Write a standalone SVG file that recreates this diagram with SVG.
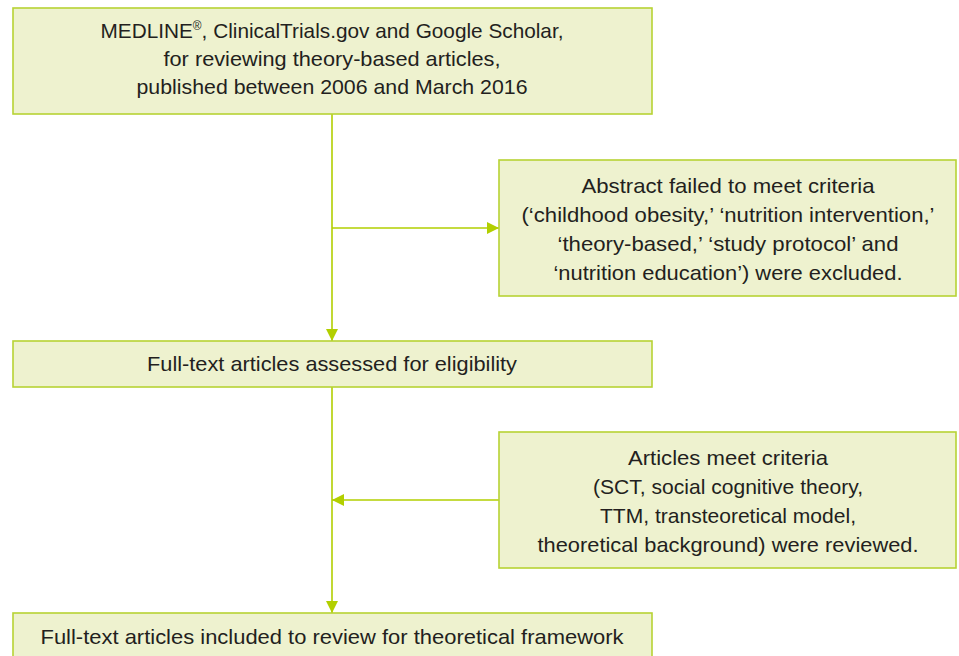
<svg xmlns="http://www.w3.org/2000/svg" width="959" height="656" viewBox="0 0 959 656">
<style>
.box{fill:#EEF2CF;stroke:#B7D334;stroke-width:1.6}
.t{font-family:"Liberation Sans","Arial",sans-serif;font-size:21px;fill:#231F20;text-anchor:middle}
.c{stroke:#B2CF00;stroke-width:1.6;fill:none}
</style>
<defs>
<marker id="ah" viewBox="0 0 12 12" refX="12" refY="6" markerWidth="12" markerHeight="12" markerUnits="userSpaceOnUse" orient="auto">
<path d="M0,0 L12,6 L0,12 Z" fill="#B2CF00"/>
</marker>
</defs>
<rect width="959" height="656" fill="#FFFFFF"/>
<g id="connectors">
<line class="c" x1="332" y1="114" x2="332" y2="341" marker-end="url(#ah)"/>
<line class="c" x1="332" y1="228" x2="499" y2="228" marker-end="url(#ah)"/>
<line class="c" x1="332" y1="387" x2="332" y2="613" marker-end="url(#ah)"/>
<line class="c" x1="499" y1="500" x2="332" y2="500" marker-end="url(#ah)"/>
</g>
<g id="search">
<rect class="box" x="13" y="8" width="639" height="106"/>
<text class="t" x="332" y="38" textLength="463" lengthAdjust="spacingAndGlyphs">MEDLINE<tspan font-size="12" dy="-8">®</tspan><tspan dy="8">, ClinicalTrials.gov and Google Scholar,</tspan></text>
<text class="t" x="332" y="66" textLength="337" lengthAdjust="spacingAndGlyphs">for reviewing theory-based articles,</text>
<text class="t" x="332" y="94" textLength="391" lengthAdjust="spacingAndGlyphs">published between 2006 and March 2016</text>
</g>
<g id="excluded">
<rect class="box" x="499" y="160" width="457" height="136"/>
<text class="t" x="728" y="193" textLength="293" lengthAdjust="spacingAndGlyphs">Abstract failed to meet criteria</text>
<text class="t" x="728" y="222" textLength="413" lengthAdjust="spacingAndGlyphs">(‘childhood obesity,’ ‘nutrition intervention,’</text>
<text class="t" x="728" y="251" textLength="341" lengthAdjust="spacingAndGlyphs">‘theory-based,’ ‘study protocol’ and</text>
<text class="t" x="728" y="280" textLength="349" lengthAdjust="spacingAndGlyphs">‘nutrition education’) were excluded.</text>
</g>
<g id="fulltext">
<rect class="box" x="13" y="341" width="639" height="46"/>
<text class="t" x="332" y="371" textLength="370" lengthAdjust="spacingAndGlyphs">Full-text articles assessed for eligibility</text>
</g>
<g id="reviewed">
<rect class="box" x="499" y="432" width="457" height="136"/>
<text class="t" x="728" y="465" textLength="200" lengthAdjust="spacingAndGlyphs">Articles meet criteria</text>
<text class="t" x="728" y="494" textLength="270" lengthAdjust="spacingAndGlyphs">(SCT, social cognitive theory,</text>
<text class="t" x="728" y="523" textLength="256" lengthAdjust="spacingAndGlyphs">TTM, transteoretical model,</text>
<text class="t" x="728" y="552" textLength="381" lengthAdjust="spacingAndGlyphs">theoretical background) were reviewed.</text>
</g>
<g id="included">
<rect class="box" x="13" y="613" width="639" height="60"/>
<text class="t" x="332" y="644" textLength="583" lengthAdjust="spacingAndGlyphs">Full-text articles included to review for theoretical framework</text>
</g>
</svg>
